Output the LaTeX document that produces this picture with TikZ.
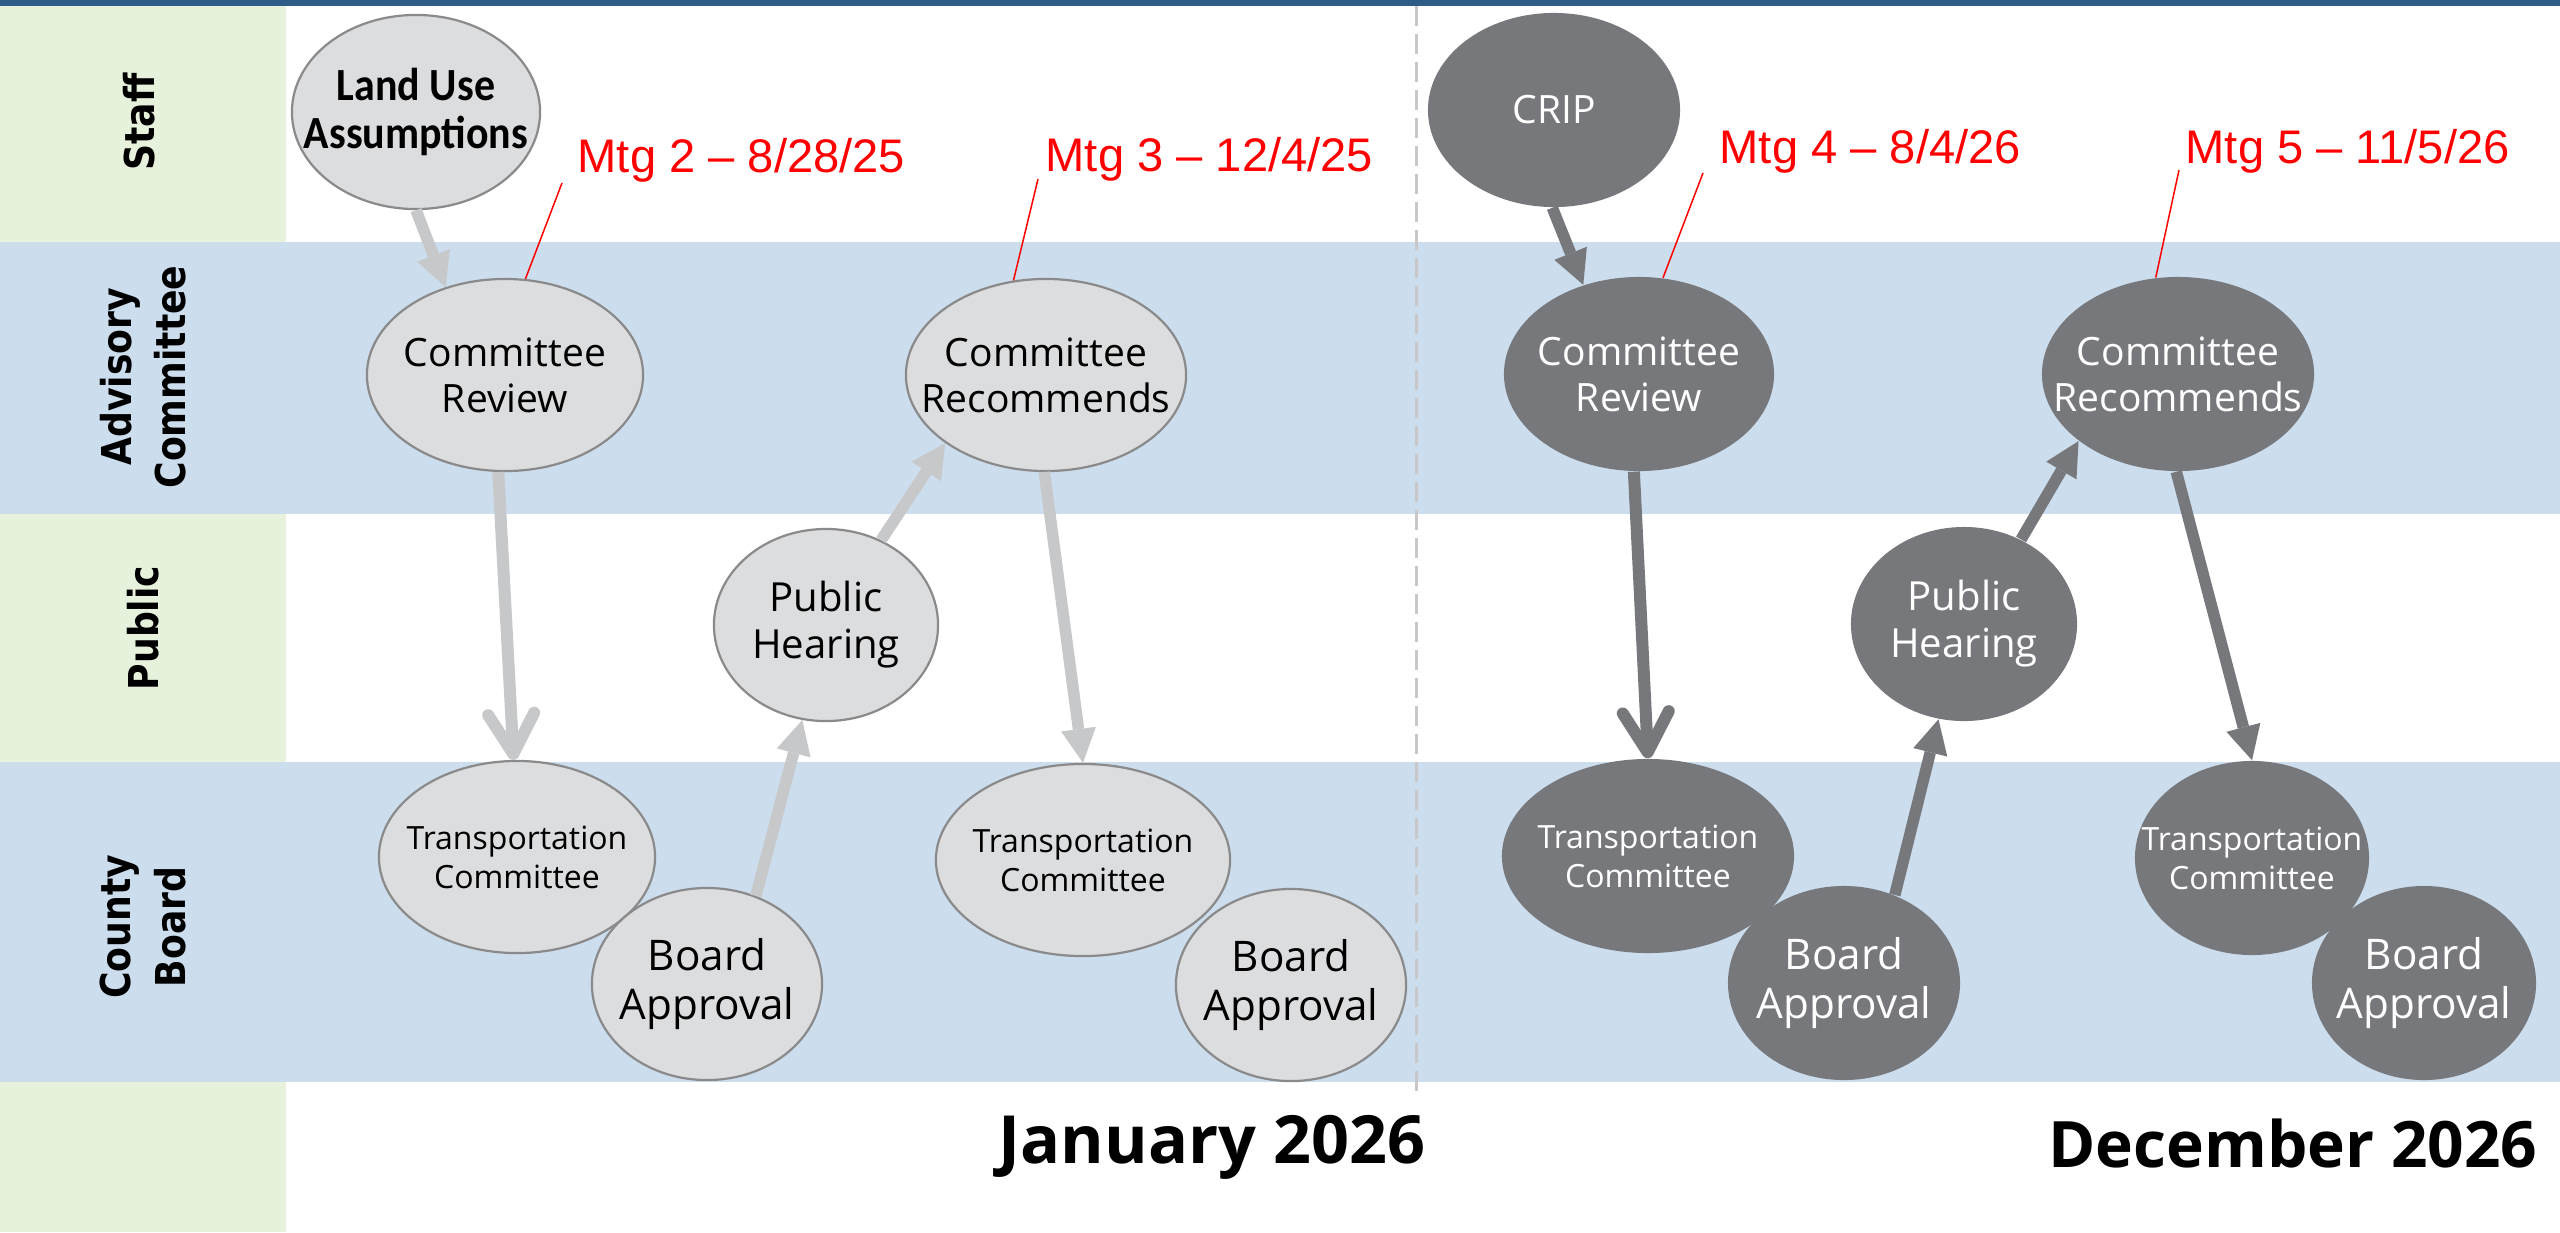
\documentclass[tikz,border=0pt]{standalone}
\usepackage{fontspec}
\usetikzlibrary{arrows.meta,shapes.geometric}
\newfontfamily\osans{Open Sans}
\newfontfamily\carl{Carlito}
\newfontfamily\arialf{Liberation Sans}
\newfontfamily\dvs{DejaVu Sans}
\definecolor{topbar}{HTML}{2F5B89}
\definecolor{lgreen}{HTML}{E6F2DB}
\definecolor{lblue}{HTML}{CCDDED}
\definecolor{lfill}{HTML}{DCDDDF}
\definecolor{lborder}{HTML}{8A8A8A}
\definecolor{larr}{HTML}{C7C8CA}
\definecolor{dgray}{HTML}{77787B}
\definecolor{dashcol}{HTML}{C8C8C8}
\definecolor{mtgred}{HTML}{FF0000}
\newcommand\hs[1]{\scalebox{0.88}[1]{#1}}
\begin{document}
\begin{tikzpicture}[x=0.01cm,y=-0.01cm,
  lnode/.style={ellipse, draw=lborder, line width=0.22mm, fill=lfill, inner sep=0pt},
  dnode/.style={ellipse, fill=dgray, inner sep=0pt},
  lt/.style={text=black, align=center, inner sep=0pt},
  dt/.style={text=white, align=center, inner sep=0pt},
  fmain/.style={font=\osans\fontsize{11.1}{13.1}\selectfont},
  fpub/.style={font=\osans\fontsize{11.4}{13.4}\selectfont},
  fboard/.style={font=\osans\fontsize{12}{14.2}\selectfont},
  ftrans/.style={font=\osans\fontsize{9.1}{11.1}\selectfont},
  lane/.style={rotate=90, align=center, font=\dvs\bfseries\fontsize{11.7}{15.5}\selectfont},
  mtg/.style={anchor=base west, text=mtgred, font=\arialf\fontsize{13.4}{15}\selectfont, inner sep=0pt},
  datelbl/.style={anchor=base east, text=black, inner sep=0pt},
  leader/.style={draw=mtgred, line width=0.15mm},
  larrow/.style={draw=larr, line width=1.15mm, -{Triangle[length=3.4mm,width=3.5mm,line width=0pt]}},
  darrow/.style={draw=dgray, line width=1.15mm, -{Triangle[length=3.4mm,width=3.5mm,line width=0pt]}},
  lbarb/.style={draw=larr, line width=1.2mm, -{Straight Barb[length=4mm,width=4.6mm,round]}},
  dbarb/.style={draw=dgray, line width=1.2mm, -{Straight Barb[length=4mm,width=4.6mm,round]}}
]
\useasboundingbox (0,0) rectangle (2560,1232);
% backgrounds
\fill[white] (0,0) rectangle (2560,1232);
\fill[lgreen] (0,6) rectangle (286,242);
\fill[lblue] (0,242) rectangle (2560,514);
\fill[lgreen] (0,514) rectangle (286,762);
\fill[lblue] (0,762) rectangle (2560,1082);
\fill[lgreen] (0,1082) rectangle (286,1232);
\fill[topbar] (0,0) rectangle (2560,6);
\draw[dashcol, line width=0.3mm, dash pattern=on 2mm off 0.8mm] (1416,6) -- (1416,1095);

% lane labels
\node[lane] (lstaff) at (139,122) {\hs{Staff}};
\node[lane] (ladv) at (143,377) {\hs{Advisory}\\\hs{Committee}};
\node[lane] (lpub) at (143,628) {\hs{Public}};
\node[lane] (lcb) at (143,927) {\hs{County}\\\hs{Board}};

% light nodes
\node[lnode, minimum width=2.48cm, minimum height=1.94cm,
  label={[lt, font=\carl\bfseries\fontsize{13.1}{13.7}\selectfont]center:{\scalebox{0.91}[1]{Land Use}\\\scalebox{0.91}[1]{Assumptions}}}] (lua) at (416,112) {};
\node[lnode, minimum width=2.76cm, minimum height=1.92cm, label={[lt, fmain]center:{Committee\\Review}}] (crl) at (505,375) {};
\node[lnode, minimum width=2.80cm, minimum height=1.92cm, label={[lt, fmain]center:{Committee\\Recommends}}] (recl) at (1046,375) {};
\node[lnode, minimum width=2.24cm, minimum height=1.92cm, label={[lt, fpub]center:{Public\\Hearing}}] (phl) at (826,625) {};
\node[lnode, minimum width=2.76cm, minimum height=1.92cm, label={[lt, ftrans]center:{Transportation\\Committee}}] (tcl) at (517,857) {};
\node[lnode, minimum width=2.30cm, minimum height=1.92cm, label={[lt, fboard]center:{Board\\Approval}}] (bal) at (707,984) {};
\node[lnode, minimum width=2.94cm, minimum height=1.92cm, label={[lt, ftrans]center:{Transportation\\Committee}}] (tc2l) at (1083,860) {};
\node[lnode, minimum width=2.30cm, minimum height=1.92cm, label={[lt, fboard]center:{Board\\Approval}}] (ba2l) at (1291,985) {};

% dark nodes
\node[dnode, minimum width=2.52cm, minimum height=1.94cm, label={[dt, fmain]center:{CRIP}}] (crip) at (1554,110) {};
\node[dnode, minimum width=2.70cm, minimum height=1.94cm, label={[dt, fmain]center:{Committee\\Review}}] (crd) at (1639,374) {};
\node[dnode, minimum width=2.72cm, minimum height=1.94cm, label={[dt, fmain]center:{Committee\\Recommends}}] (recd) at (2178,374) {};
\node[dnode, minimum width=2.26cm, minimum height=1.94cm, label={[dt, fpub]center:{Public\\Hearing}}] (phd) at (1964,624) {};
\node[dnode, minimum width=2.92cm, minimum height=1.94cm, label={[dt, ftrans]center:{Transportation\\Committee}}] (tcd) at (1648,856) {};
\node[dnode, minimum width=2.32cm, minimum height=1.94cm, label={[dt, fboard]center:{Board\\Approval}}] (bad) at (1844,983) {};
\node[dnode, minimum width=2.34cm, minimum height=1.94cm, label={[dt, ftrans]center:{Transportation\\Committee}}] (tcr) at (2252,858) {};
\node[dnode, minimum width=2.24cm, minimum height=1.94cm, label={[dt, fboard]center:{Board\\Approval}}] (bar) at (2424,983) {};

% arrows
\draw[larrow] (lua.-90) -- (crl.124);
\draw[lbarb] (crl.-94) -- (tcl.92);
\draw[larrow] (bal.61.6) -- (phl.-104);
\draw[larrow] (phl.57) -- (recl.214.3);
\draw[larrow] (recl.-91) -- (tc2l.90.6);
\draw[darrow] (crip.-91) -- (crd.122.5);
\draw[dbarb] (crd.-93) -- (tcd.90);
\draw[darrow] (bad.60.8) -- (phd.-105.5);
\draw[darrow] (phd.56.3) -- (recd.214.9);
\draw[darrow] (recd.-91) -- (tcr.90);

% meeting labels
\node[mtg] (m2) at (577,172) {Mtg 2 – 8/28/25};
\node[mtg] (m3) at (1045,171) {Mtg 3 – 12/4/25};
\node[mtg] (m4) at (1719,163) {Mtg 4 – 8/4/26};
\node[mtg] (m5) at (2185,163) {Mtg 5 – 11/5/26};
\coordinate (m2s) at (562,183);
\coordinate (m3s) at (1038,179);
\coordinate (m4s) at (1703,173);
\coordinate (m5s) at (2179,170);
\draw[leader] (m2s) -- (crl.78.4);
\draw[leader] (m3s) -- (recl.109.5);
\draw[leader] (m4s) -- (crd.76);
\draw[leader] (m5s) -- (recd.103.8);

% date labels
\node[datelbl, font=\osans\bfseries\fontsize{18.9}{22}\selectfont] (jan) at (1426,1163) {January 2026};
\node[datelbl, font=\osans\bfseries\fontsize{18.2}{22}\selectfont] (dec) at (2538,1167) {December 2026};
\end{tikzpicture}
\end{document}
